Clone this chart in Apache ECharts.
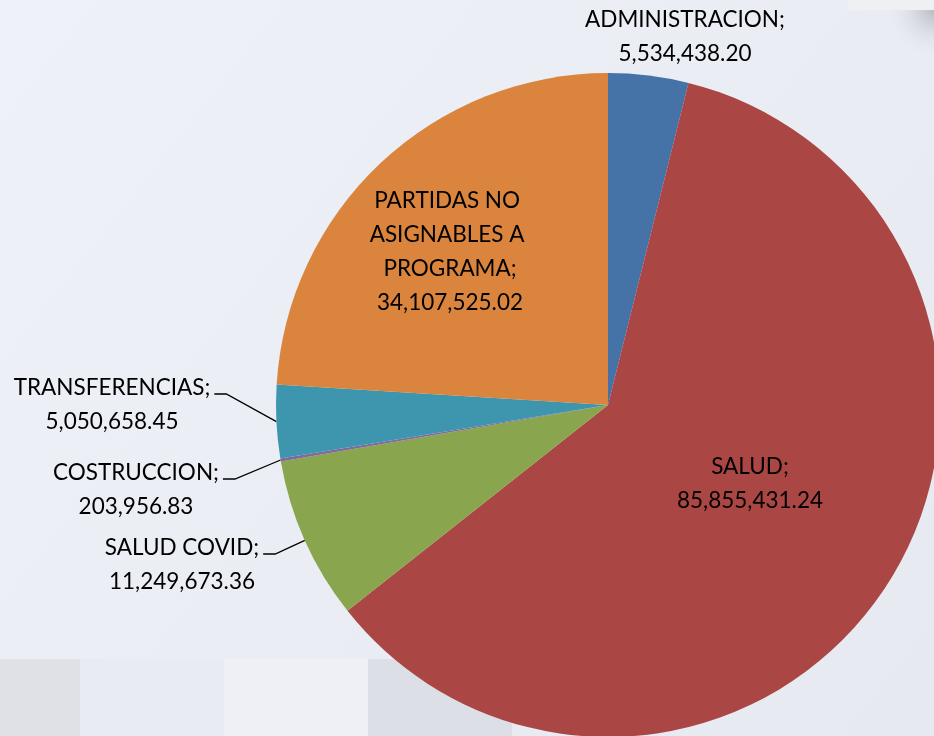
<!DOCTYPE html>
<html>
<head>
<meta charset="utf-8">
<script src="https://cdn.jsdelivr.net/npm/echarts@6/dist/echarts.min.js"></script>
<style>
  html, body { margin: 0; padding: 0; background: #e9ecf2; }
  #main { width: 934px; height: 736px; }
</style>
</head>
<body>
<div id="main"></div>
<script>
// data, clockwise from 12 o'clock
var categories = ['ADMINISTRACION', 'SALUD', 'SALUD COVID', 'COSTRUCCION', 'TRANSFERENCIAS', 'PARTIDAS NO ASIGNABLES A PROGRAMA'];
var values = [5534438.20, 85855431.24, 11249673.36, 203956.83, 5050658.45, 34107525.02];
var colors = ['#4572A7', '#AA4643', '#89A54E', '#80699B', '#3D96AE', '#DB843D'];

// where each label block sits (center of text)
var labelPos = [[685, 37], [750, 484], [182, 565], [136, 490], [112, 405], [450, 252]];
var outside = [false, false, true, true, true, false];
var lift = 11; // leader line meets the label a bit above its middle

function fmt(v) {
    return v.toFixed(2).replace(/\B(?=(\d{3})+(?!\d))/g, ',');
}

var seriesData = [];
for (var i = 0; i < categories.length; i++) {
    var item = {
        name: categories[i],
        value: values[i],
        itemStyle: { color: colors[i] },
        label: { position: outside[i] ? 'outside' : 'inside' },
        labelLine: { show: outside[i] }
    };
    if (i == 5) {
        item.label.width = 200;
        item.label.overflow = 'break';
    }
    seriesData.push(item);
}

var myChart = echarts.init(document.getElementById('main'));

var option = {
    backgroundColor: 'transparent',
    animation: false,
    graphic: [
        { type: 'rect', z: -10, shape: { x: 0, y: 0, width: 934, height: 736 },
          style: { fill: new echarts.graphic.LinearGradient(0, 0, 1, 1, [
              { offset: 0, color: '#eef1f7' }, { offset: 1, color: '#e6e9f0' }]) } },
        { type: 'rect', z: -9, shape: { x: 0, y: 659, width: 80, height: 77 }, style: { fill: '#dfe1e7' } },
        { type: 'rect', z: -9, shape: { x: 80, y: 659, width: 144, height: 77 }, style: { fill: '#e8ebf2' } },
        { type: 'rect', z: -9, shape: { x: 224, y: 659, width: 144, height: 77 }, style: { fill: '#eef0f5' } },
        { type: 'rect', z: -9, shape: { x: 368, y: 659, width: 144, height: 77 }, style: { fill: '#dcdfe6' } },
        { type: 'rect', z: -9, shape: { x: 830, y: 10, width: 104, height: 50 },
          style: { fill: new echarts.graphic.RadialGradient(1, 0, 1, [
              { offset: 0, color: '#b9bbc2' }, { offset: 1, color: 'rgba(233,236,242,0)' }]) } },
        { type: 'rect', z: -8, shape: { x: 848, y: 0, width: 86, height: 10 }, style: { fill: '#eef0f4' } }
    ],
    series: [{
        type: 'pie',
        center: [608, 405],
        radius: 332,
        startAngle: 90,
        clockwise: true,
        avoidLabelOverlap: false,
        itemStyle: { borderWidth: 0 },
        label: {
            show: true,
            color: '#000',
            fontFamily: 'Lato',
            fontSize: 22.5,
            lineHeight: 34,
            align: 'center',
            formatter: function (p) {
                return p.name + ';\n' + fmt(p.value);
            }
        },
        labelLine: {
            lineStyle: { color: '#000', width: 1.3 },
            length: 10,
            length2: 12
        },
        labelLayout: function (params) {
            var i = params.dataIndex;
            var pos = labelPos[i];
            var res = { x: pos[0], y: pos[1], align: 'center', verticalAlign: 'middle' };
            if (outside[i] && params.labelLinePoints) {
                // keep the pie's own anchor on the arc, hook the line at the first text row
                var anchor = params.labelLinePoints[0];
                var right = pos[0] + params.labelRect.width / 2 + 4;
                var ly = pos[1] - lift;
                res.labelLinePoints = [anchor, [right + 12, ly], [right, ly]];
            }
            return res;
        },
        emphasis: { disabled: true },
        data: seriesData
    }]
};
myChart.setOption(option);
</script>
</body>
</html>
